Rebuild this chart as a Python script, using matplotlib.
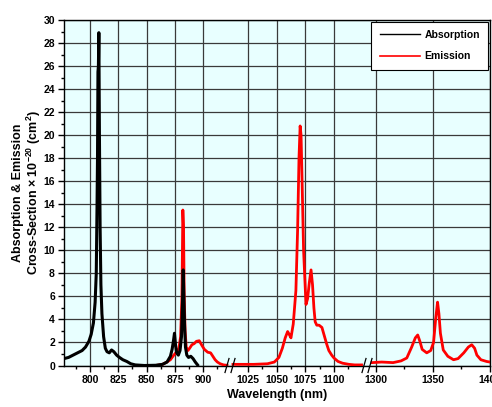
import numpy as np
import matplotlib
matplotlib.use('Agg')
import matplotlib.pyplot as plt
from matplotlib.lines import Line2D

plt.rcParams['font.family'] = ['Liberation Sans', 'DejaVu Sans']
plt.rcParams['font.weight'] = 'bold'
plt.rcParams['mathtext.fontset'] = 'custom'
plt.rcParams['mathtext.bf'] = 'Liberation Sans:bold'
plt.rcParams['mathtext.rm'] = 'Liberation Sans:bold'
plt.rcParams['mathtext.default'] = 'bf'

# absorption spectrum (nm, 10^-20 cm^2)
ab_wl = [777, 781, 785, 789, 793, 796, 799, 801, 803, 804.5, 805.5, 806.2, 806.6, 807.0,
         807.4, 807.8, 808.3, 808.9, 809.6, 810.5, 812, 813.5, 815, 817, 819, 821, 823.5,
         826, 829, 832.5, 836, 840, 848, 858, 864, 868, 871, 872.5, 873.8, 874.6, 875.5,
         876.5, 878, 879.5, 880.8, 881.7, 882.3, 882.9, 883.5, 884.3, 885.5, 887, 889, 891,
         893, 895]
ab_val = [0.6, 0.7, 0.9, 1.1, 1.3, 1.6, 2.1, 2.7, 3.7, 5.5, 8, 14, 18, 25.5,
          26, 28.9, 20, 12, 7, 4.5, 2.5, 1.5, 1.2, 1.1, 1.35, 1.2, 0.9,
          0.7, 0.5, 0.35, 0.15, 0.05, 0.0, 0.02, 0.1, 0.3, 0.8, 1.4, 2.2, 2.8, 1.8,
          1.1, 0.9, 1.3, 2.5, 5.5, 8.3, 6, 3.5, 1.6, 0.9, 0.7, 0.8, 0.6,
          0.3, 0.05]

# emission spectrum, one list per axis segment
em1_wl = [858, 864, 868, 871, 874, 876.5, 878.5, 880, 881.2, 882.0, 882.6, 883.2, 884.0, 885,
          886.5, 888, 890, 892, 894, 896.5, 898.5, 901, 904, 906.5, 908.5, 910.5, 912.5,
          915, 918, 921]
em1_val = [0, 0.1, 0.3, 0.5, 0.9, 1.2, 1.5, 2.5, 6, 13.5, 12, 6, 3, 1.6,
           1.3, 1.5, 1.8, 1.9, 2.1, 2.15, 1.8, 1.4, 1.15, 1.1, 0.8, 0.5, 0.3,
           0.15, 0.05, 0.02]

em2_wl = [1012, 1030, 1042, 1048, 1052, 1055, 1057.5, 1059.6, 1061, 1062.5, 1064.5, 1066.8,
          1068.3, 1069.5, 1070.5, 1071.3, 1072.2, 1073.5, 1075.6, 1077, 1078.5, 1080, 1081.3,
          1082.5, 1083.6, 1085, 1087, 1089.5, 1091.5, 1093.5, 1095.5, 1098, 1100, 1103.5,
          1107.5, 1113, 1118, 1124]
em2_val = [0.1, 0.1, 0.15, 0.3, 0.7, 1.5, 2.4, 2.95, 2.7, 2.4, 3.6, 6.5,
           11.8, 18, 20.8, 20, 16, 10, 5.3, 5.8, 7.2, 8.3, 7.0,
           5.0, 3.8, 3.5, 3.5, 3.3, 2.6, 1.9, 1.3, 0.9, 0.65, 0.35,
           0.2, 0.1, 0.05, 0.05]

em3_wl = [1296.5, 1305, 1315, 1322, 1327, 1331.3, 1334.5, 1336.6, 1338.5, 1340.5, 1344.5,
          1348, 1350.5, 1352.3, 1354, 1355.2, 1356.5, 1359, 1363, 1368, 1372, 1377, 1381,
          1384, 1386.5, 1388.5, 1392, 1397, 1400]
em3_val = [0.25, 0.3, 0.25, 0.4, 0.65, 1.6, 2.4, 2.65, 2.1, 1.4, 1.1,
           1.3, 2.0, 4.0, 5.5, 4.5, 2.8, 1.35, 0.8, 0.5, 0.6, 1.1, 1.6,
           1.8, 1.5, 0.9, 0.5, 0.35, 0.3]

xticks = [800, 825, 850, 875, 900, 1025, 1050, 1075, 1100, 1300, 1350, 1400]
xminor = [787.5, 812.5, 837.5, 862.5, 887.5, 912.5, 1037.5, 1062.5, 1087.5, 1112.5, 1325, 1375]
yticks = np.arange(0, 31, 2)

# broken x axis: wavelength segments and where they sit (pixels)
seg_lo = [777, 1012, 1296.5]
seg_hi = [921, 1124.4, 1400]
seg_px = [(64, 227), (233, 362), (372, 490)]

wl_bp = [-1000.0]
px_bp = [64 - 1777 * 1.13]
for lo, hi, (p0, p1) in zip(seg_lo, seg_hi, seg_px):
    wl_bp += [lo, hi]
    px_bp += [p0, p1]
wl_bp.append(5000.0)
px_bp.append(490 + 3600 * 1.14)


def fwd(x):
    return np.interp(x, wl_bp, px_bp)


def inv(p):
    return np.interp(p, px_bp, wl_bp)


fig = plt.figure(figsize=(4.92, 4.07), dpi=100)
ax = fig.add_axes([64 / 492, 1 - 365.5 / 407, (490 - 64) / 492, (365.5 - 20) / 407])
ax.set_facecolor('#e8ffff')
ax.set_xscale('function', functions=(fwd, inv))
ax.set_xlim(777, 1400)
ax.set_ylim(0, 30)

for w, v in [(em1_wl, em1_val), (em2_wl, em2_val), (em3_wl, em3_val)]:
    ax.plot(w, v, color='#ff0000', lw=2.0, zorder=3, solid_joinstyle='round')
ax.plot(ab_wl, ab_val, color='black', lw=2.2, zorder=4, solid_joinstyle='round')

ax.set_xticks(xticks, labels=[str(t) for t in xticks])
ax.set_xticks(xminor, minor=True)
ax.set_yticks(yticks)
ax.set_yticks(np.arange(1, 30, 2), minor=True)
ax.tick_params(which='major', direction='out', length=4.5, width=1, labelsize=7.5, pad=2)
ax.tick_params(which='minor', direction='out', length=2.5, width=1)
ax.grid(True, which='major', color='#3a3a3a', lw=0.9)
ax.set_axisbelow(True)
for s in ax.spines.values():
    s.set_linewidth(1)
    s.set_color('black')

# break marks on the bottom axis
span = seg_px[-1][1] - seg_px[0][0]
for i in range(len(seg_px) - 1):
    c = ((seg_px[i][1] + seg_px[i + 1][0]) / 2 - seg_px[0][0]) / span
    for off in (-3.0, 3.0):
        x0 = c + (off - 2.0) / span
        x1 = c + (off + 2.0) / span
        ax.plot([x0, x1], [-7 / 345.5, 7 / 345.5], transform=ax.transAxes,
                color='black', lw=0.9, clip_on=False, zorder=6)

ax.set_xlabel('Wavelength (nm)', fontsize=9, fontweight='bold', labelpad=3)
ax.set_ylabel('Absorption & Emission\nCross-Section $\\times$ 10$^{-20}$ (cm$^2$)',
              fontsize=9, fontweight='bold', labelpad=0, linespacing=1.05)

handles = [Line2D([], [], color='black', lw=1.0), Line2D([], [], color='#ff0000', lw=1.2)]
leg = ax.legend(handles, ['Absorption', 'Emission'], loc='upper right',
                bbox_to_anchor=(1.0, 1.0), borderaxespad=0.15, fancybox=False,
                framealpha=1, edgecolor='black', prop={'size': 7.5, 'weight': 'bold'},
                handlelength=3.9, labelspacing=1.1, borderpad=0.8, handletextpad=0.4)
leg.get_frame().set_linewidth(0.8)

fig.savefig('out.png', dpi=100)
